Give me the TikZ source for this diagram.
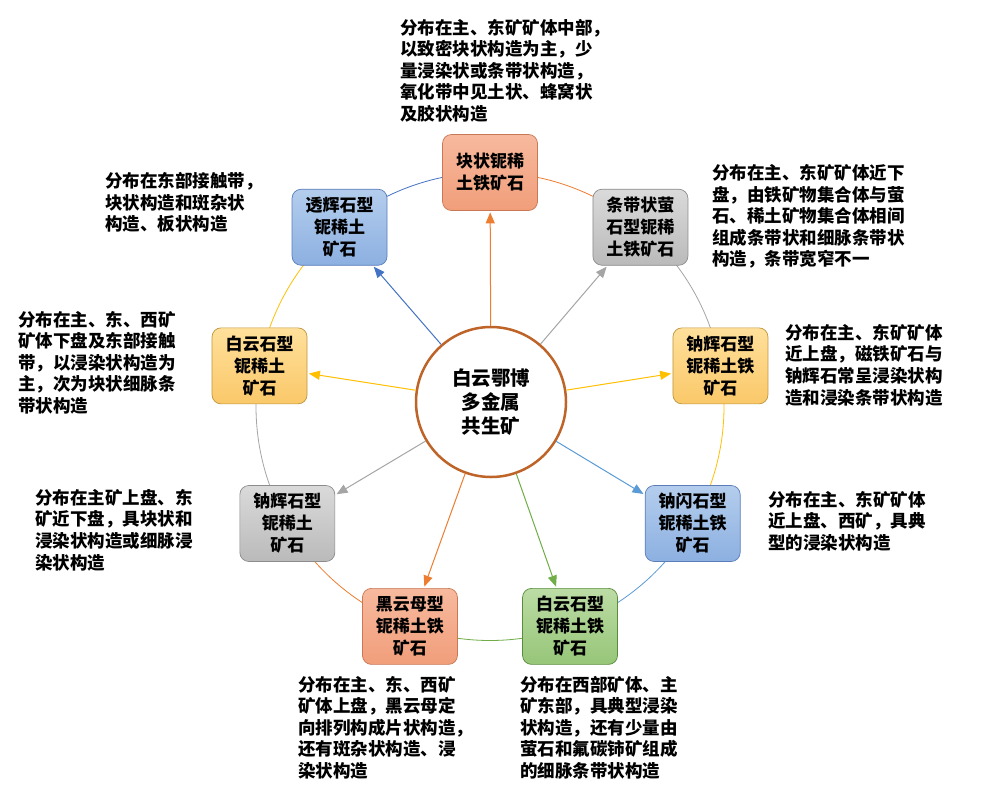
\documentclass[tikz,border=0pt]{standalone}
\usepackage{fontspec}
\newfontfamily\cjk{Noto Sans CJK SC}
\usetikzlibrary{arrows.meta}
\definecolor{cOrange}{RGB}{237,125,49}
\definecolor{cGray}{RGB}{165,165,165}
\definecolor{cGold}{RGB}{255,192,0}
\definecolor{cBlue}{RGB}{91,155,213}
\definecolor{cDBlue}{RGB}{68,114,196}
\definecolor{cGreen}{RGB}{112,173,71}
\definecolor{cBrown}{RGB}{190,100,40}
\definecolor{salT}{RGB}{247,185,158}
\definecolor{salB}{RGB}{241,158,122}
\definecolor{salD}{RGB}{200,120,85}
\definecolor{grT}{RGB}{218,218,218}
\definecolor{grB}{RGB}{186,186,186}
\definecolor{grD}{RGB}{140,140,140}
\definecolor{yeT}{RGB}{255,224,155}
\definecolor{yeB}{RGB}{250,200,105}
\definecolor{yeD}{RGB}{190,150,60}
\definecolor{blT}{RGB}{180,205,237}
\definecolor{blB}{RGB}{140,176,225}
\definecolor{blD}{RGB}{90,125,185}
\definecolor{gnT}{RGB}{188,220,165}
\definecolor{gnB}{RGB}{150,198,120}
\definecolor{gnD}{RGB}{90,140,60}
\begin{document}
\begin{tikzpicture}[x=1pt,y=-1pt,
  ore/.style={draw, rounded corners=9pt, minimum width=95pt, minimum height=76pt,
    align=center, inner sep=2pt, line width=0.7pt,
    font=\cjk\bfseries\fontsize{17}{22}\selectfont},
  salbox/.style={ore, draw=salD, top color=salT, bottom color=salB},
  graybox/.style={ore, draw=grD, top color=grT, bottom color=grB},
  yelbox/.style={ore, draw=yeD, top color=yeT, bottom color=yeB},
  bluebox/.style={ore, draw=blD, top color=blT, bottom color=blB},
  grnbox/.style={ore, draw=gnD, top color=gnT, bottom color=gnB},
  note/.style={anchor=west, align=left, inner sep=0pt,
    font=\cjk\bfseries\fontsize{17.5}{21.6}\selectfont},
  arr/.style={-{Triangle[length=11pt,width=9pt]}, line width=1pt, shorten >=1.5pt},
  ring/.style={line width=0.8pt}]
\useasboundingbox[fill=white] (0,0) rectangle (981,797);
\coordinate (O) at (490,406.5);
% ring arcs
\draw[ring,cOrange] (O) ++(-90:234) arc[start angle=-90, end angle=-50, radius=234];
\draw[ring,cGray]   (O) ++(-50:234) arc[start angle=-50, end angle=-10, radius=234];
\draw[ring,cGold]   (O) ++(-10:234) arc[start angle=-10, end angle=30, radius=234];
\draw[ring,cBlue]   (O) ++(30:234) arc[start angle=30, end angle=70, radius=234];
\draw[ring,cGreen]  (O) ++(70:234) arc[start angle=70, end angle=110, radius=234];
\draw[ring,cOrange] (O) ++(110:234) arc[start angle=110, end angle=150, radius=234];
\draw[ring,cGray]   (O) ++(150:234) arc[start angle=150, end angle=190, radius=234];
\draw[ring,cGold]   (O) ++(190:234) arc[start angle=190, end angle=230, radius=234];
\draw[ring,cDBlue]  (O) ++(230:234) arc[start angle=230, end angle=270, radius=234];
% boxes
\path (O) ++(-90:234) node[salbox] (n0) {块状铌稀\\土铁矿石};
\path (O) ++(-50:234) node[graybox] (n1) {条带状萤\\石型铌稀\\土铁矿石};
\path (O) ++(-10:234) node[yelbox] (n2) {钠辉石型\\铌稀土铁\\矿石};
\path (O) ++(30:234) node[bluebox] (n3) {钠闪石型\\铌稀土铁\\矿石};
\path (O) ++(70:234) node[grnbox] (n4) {白云石型\\铌稀土铁\\矿石};
\path (O) ++(110:234) node[salbox] (n5) {黑云母型\\铌稀土铁\\矿石};
\path (O) ++(150:234) node[graybox] (n6) {钠辉石型\\铌稀土\\矿石};
\path (O) ++(190:234) node[yelbox] (n7) {白云石型\\铌稀土\\矿石};
\path (O) ++(230:234) node[bluebox] (n8) {透辉石型\\铌稀土\\矿石};
% centre
\node[circle, draw=cBrown, line width=2.5pt, fill=white, minimum size=150pt,
  align=center, font=\cjk\bfseries\fontsize{19.5}{24}\selectfont] (C) at (491,402)
  {白云鄂博\\多金属\\共生矿};
% arrows
\draw[arr,cOrange] (C) -- (n0);
\draw[arr,cGray]   (C) -- (n1);
\draw[arr,cGold]   (C) -- (n2);
\draw[arr,cBlue]   (C) -- (n3);
\draw[arr,cGreen]  (C) -- (n4);
\draw[arr,cOrange] (C) -- (n5);
\draw[arr,cGray]   (C) -- (n6);
\draw[arr,cGold]   (C) -- (n7);
\draw[arr,cDBlue]  (C) -- (n8);
% notes
\node[note] (t0) at (400,70.5) {分布在主、东矿矿体中部，\\以致密块状构造为主，少\\量浸染状或条带状构造，\\氧化带中见土状、蜂窝状\\及胶状构造};
\node[note] (t1) at (712,216.5) {分布在主、东矿矿体近下\\盘，由铁矿物集合体与萤\\石、稀土矿物集合体相间\\组成条带状和细脉条带状\\构造，条带宽窄不一};
\node[note] (t2) at (785,365) {分布在主、东矿矿体\\近上盘，磁铁矿石与\\钠辉石常呈浸染状构\\造和浸染条带状构造};
\node[note] (t3) at (768,521) {分布在主、东矿矿体\\近上盘、西矿，具典\\型的浸染状构造};
\node[note] (t4) at (520,727.5) {分布在西部矿体、主\\矿东部，具典型浸染\\状构造，还有少量由\\萤石和氟碳铈矿组成\\的细脉条带状构造};
\node[note] (t5) at (298,727.5) {分布在主、东、西矿\\矿体上盘，黑云母定\\向排列构成片状构造，\\还有斑杂状构造、浸\\染状构造};
\node[note] (t6) at (35,530) {分布在主矿上盘、东\\矿近下盘，具块状和\\浸染状构造或细脉浸\\染状构造};
\node[note] (t7) at (18,362.5) {分布在主、东、西矿\\矿体下盘及东部接触\\带，以浸染状构造为\\主，次为块状细脉条\\带状构造};
\node[note] (t8) at (105,202.5) {分布在东部接触带，\\块状构造和斑杂状\\构造、板状构造};
\end{tikzpicture}
\end{document}
